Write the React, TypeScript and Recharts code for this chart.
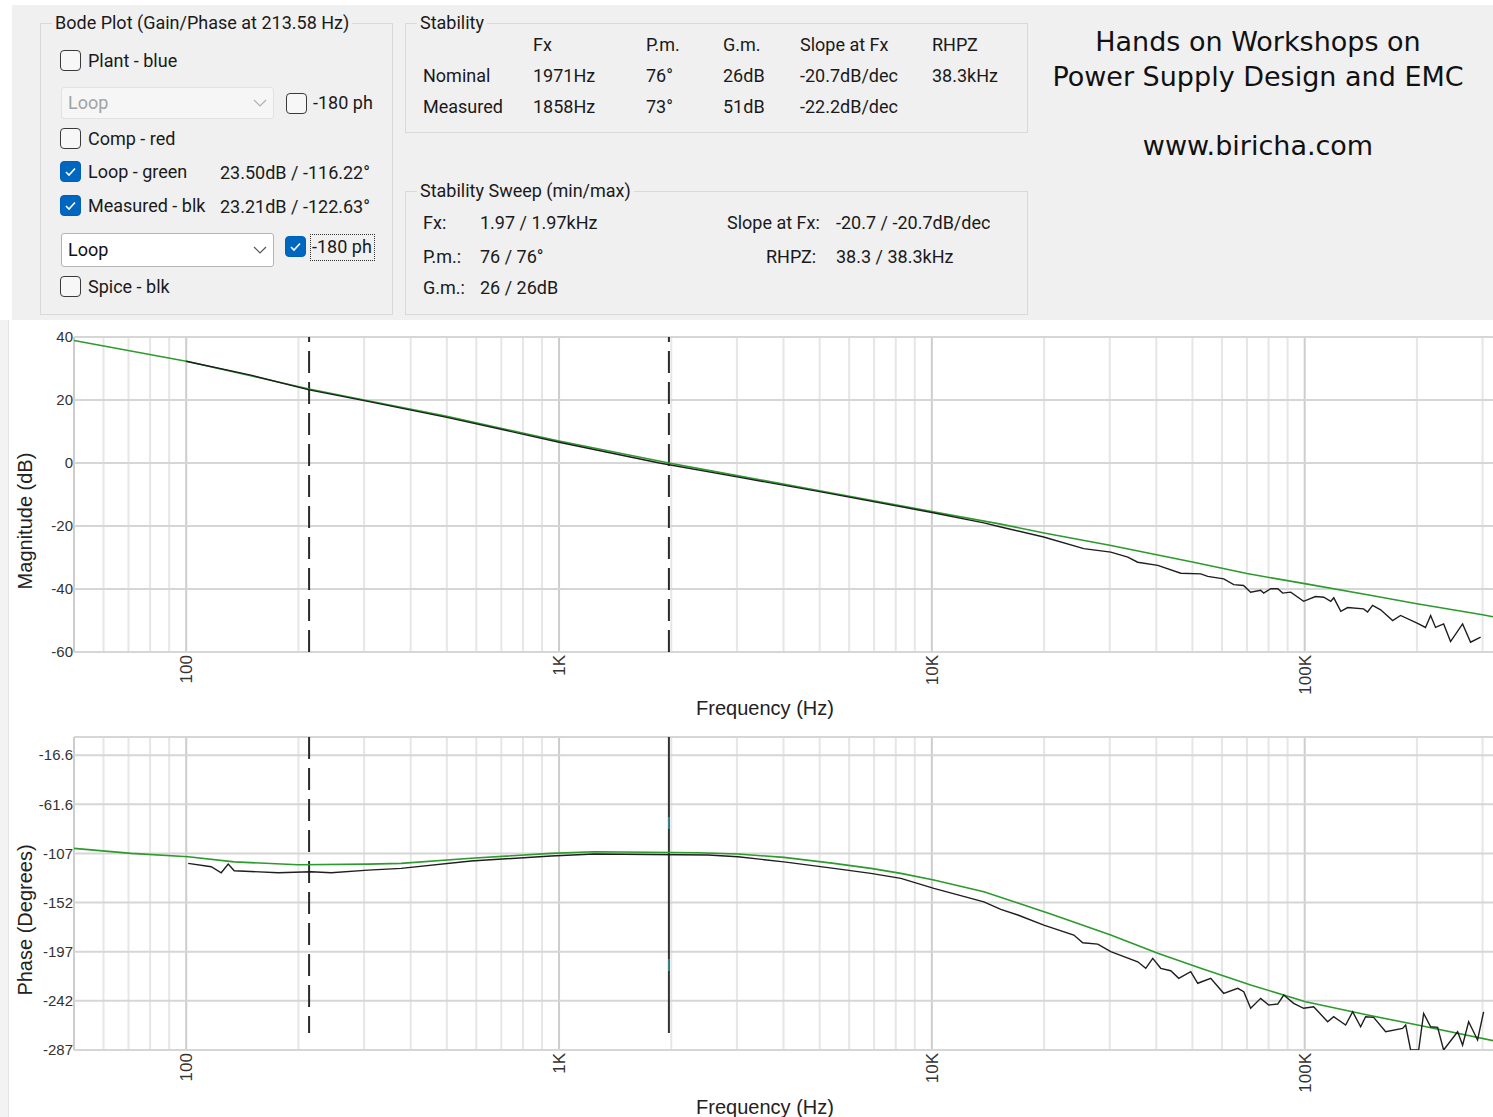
import React from 'react';
import { LineChart, Line, XAxis, YAxis, CartesianGrid, ReferenceLine } from 'recharts';

// ---------- data ----------
const freqTicks = [100, 1000, 10000, 100000];
const freqTickLabels = ['100', '1K', '10K', '100K'];
const minorGridFreqs = [60, 70, 80, 90, 200, 300, 400, 500, 600, 700, 800, 900, 2000, 3000, 4000, 5000, 6000, 7000, 8000, 9000, 20000, 30000, 40000, 50000, 60000, 70000, 80000, 90000, 200000, 300000];
const majorGridFreqs = [50, 100, 1000, 10000, 100000];

const magTicks = [40, 20, 0, -20, -40, -60];
const phaseTicks = [-16.6, -61.6, -106.6, -151.6, -196.6, -241.6, -286.6];
const phaseTickLabels = ['-16.6', '-61.6', '-107', '-152', '-197', '-242', '-287'];

const cursorFreq = 213.58;
const crossoverFreq = 1971;

const magLoopFreq = [50, 100, 150, 213.58, 300, 500, 1000, 1971, 3000, 5000, 10000, 15300, 20000, 30000, 50000, 70000, 100000, 150000, 200000, 300000, 320000];
const magLoopDb = [38.9, 32.3, 27.6, 23.5, 20.0, 14.8, 7.0, 0, -4.0, -8.8, -15.4, -19.4, -22.2, -26.1, -31.4, -35.1, -38.3, -42.0, -44.7, -48.2, -48.8];

const magMeasFreq = [100, 150, 213.58, 300, 500, 1000, 1858, 3000, 5000, 10000, 13786, 15310, 19950, 25550, 30200, 33540, 35650, 40360, 46520, 52630, 54950, 60650, 64520, 68550, 71610, 76210, 77620, 81090, 84720, 87300, 91730, 99370, 106900, 112500, 117500, 119700, 125000, 130400, 143900, 147500, 152100, 159900, 172200, 180800, 200900, 210900, 217700, 224400, 235900, 246200, 265200, 278600, 296500];
const magMeasDb = [32.3, 27.8, 23.21, 19.8, 14.5, 6.6, 0, -4.4, -9.1, -15.7, -19.0, -20.3, -23.5, -27.2, -28.3, -29.9, -31.5, -32.5, -35.0, -35.2, -36.0, -36.8, -38.6, -38.9, -41.0, -40.4, -41.3, -39.9, -39.9, -41.3, -41.0, -43.9, -42.4, -42.6, -43.9, -42.8, -47.1, -45.9, -46.3, -47.3, -45.2, -46.6, -50.0, -48.4, -50.9, -52.2, -48.4, -52.2, -51.1, -56.7, -51.1, -56.9, -55.3];

const phLoopFreq = [50, 71.2, 101.2, 134.5, 199.7, 307.6, 377, 580.8, 952, 1241, 2358, 3019, 4011, 5462, 6862, 8259, 10125, 13786, 17010, 20840, 30190, 40360, 52630, 71640, 100600, 147560, 200900, 321200];
const phLoopDeg = [-102.0, -106.6, -109.7, -114.3, -117.0, -116.4, -115.7, -111.0, -106.6, -105.1, -106.0, -107.2, -110.2, -115.7, -120.3, -124.9, -131.0, -141.7, -152.0, -162.1, -181.3, -198.1, -211.8, -227.1, -242.4, -254.6, -263.7, -278.1];

const phMeasFreq = [101.2, 116.7, 124.1, 129.6, 134.5, 176.5, 216.3, 244.8, 307.6, 377, 580.8, 952, 1241, 2509, 3019, 4011, 5462, 6862, 8259, 10125, 13786, 15310, 17010, 19970, 24030, 25400, 27860, 30190, 35660, 37470, 39130, 41110, 43730, 45940, 49480, 51660, 55980, 60650, 66150, 68640, 71640, 76210, 80080, 84670, 87860, 93430, 99380, 105700, 115260, 119600, 128800, 134500, 141300, 145700, 153100, 164900, 183100, 186600, 192400, 202200, 208500, 217700, 227300, 235900, 257200, 265200, 275300, 290900, 302000];
const phMeasDeg = [-115.7, -118.8, -124.3, -116.4, -122.5, -124.3, -123.4, -124.3, -121.9, -120.3, -113.5, -109.0, -107.2, -108.1, -109.7, -114.3, -120.3, -124.9, -129.5, -138.6, -150.9, -157.9, -163.0, -172.2, -181.3, -188.4, -189.6, -196.6, -205.8, -211.8, -202.7, -211.8, -214.0, -221.0, -214.9, -225.5, -221.0, -234.7, -230.1, -233.2, -248.4, -239.3, -245.4, -244.5, -236.3, -243.9, -248.4, -247.0, -260.7, -256.1, -263.7, -251.6, -265.3, -256.1, -256.7, -269.9, -266.8, -263.7, -286.6, -286.6, -253.1, -265.3, -265.9, -286.6, -269.9, -282.1, -260.7, -277.4, -251.6];

const magLoopData = magLoopFreq.map((f, i) => ({ f, v: magLoopDb[i] }));
const magMeasData = magMeasFreq.map((f, i) => ({ f, v: magMeasDb[i] }));
const phLoopData = phLoopFreq.map((f, i) => ({ f, v: phLoopDeg[i] }));
const phMeasData = phMeasFreq.map((f, i) => ({ f, v: phMeasDeg[i] }));

// ---------- styling ----------
const UI_FONT = 'Roboto, "Segoe UI", Arial, sans-serif';
const CHART_FONT = '"Liberation Sans", Arial, sans-serif';
const PANEL_BG = '#f0f0f0';
const GREEN = '#2c9a2c';
const BLACK = '#1e1e1e';

function FreqTick(props: any) {
  const { x, y, payload } = props;
  const i = freqTicks.indexOf(payload.value);
  return (
    <text x={x} y={y} transform={`rotate(-90 ${x} ${y})`} textAnchor="end" dy="0.36em" fontSize={17} fill="#333" fontFamily={CHART_FONT}>
      {i >= 0 ? freqTickLabels[i] : ''}
    </text>
  );
}

function AxisTitle({ x, y, text, vertical }: { x: number; y: number; text: string; vertical?: boolean }) {
  return (
    <text x={x} y={y} transform={vertical ? `rotate(-90 ${x} ${y})` : undefined} textAnchor="middle" dominantBaseline="central" fontSize={20} fill="#222" fontFamily={CHART_FONT}>
      {text}
    </text>
  );
}

function CheckBox({ x, y, checked }: { x: number; y: number; checked: boolean }) {
  return (
    <div style={{ position: 'absolute', left: x, top: y, width: 21, height: 21, boxSizing: 'border-box', borderRadius: 4, border: checked ? '1px solid #0060b8' : '1.5px solid #3a3a3a', background: checked ? '#0067c0' : '#f7f7f7' }}>
      {checked && (
        <svg width={21} height={21} style={{ position: 'absolute', left: -1, top: -1 }}>
          <polyline points="6,11 9,14 15,7.5" fill="none" stroke="#fff" strokeWidth={1.6} />
        </svg>
      )}
    </div>
  );
}

function Txt({ x, cy, children, size = 18, color = '#1a1a1a', extra }: { x: number; cy: number; children: React.ReactNode; size?: number; color?: string; extra?: React.CSSProperties }) {
  return (
    <div style={{ position: 'absolute', left: x, top: cy - 12, height: 24, lineHeight: '24px', fontSize: size, color, fontFamily: UI_FONT, whiteSpace: 'nowrap', ...extra }}>
      {children}
    </div>
  );
}

function Dropdown({ x, y, w, h, text, enabled }: { x: number; y: number; w: number; h: number; text: string; enabled: boolean }) {
  return (
    <div style={{ position: 'absolute', left: x, top: y, width: w, height: h, boxSizing: 'border-box', borderRadius: 3, border: enabled ? '1px solid #b4b4b4' : '1px solid #e2e2e2', background: enabled ? '#ffffff' : '#f6f6f6' }}>
      <div style={{ position: 'absolute', left: 6, top: 0, lineHeight: `${h - 2}px`, fontSize: 18, fontFamily: UI_FONT, color: enabled ? '#111' : '#a3a3a3' }}>{text}</div>
      <svg width={w} height={h} style={{ position: 'absolute', left: -1, top: -1 }}>
        <polyline points={`${w - 20},${h / 2 - 3} ${w - 14},${h / 2 + 3} ${w - 8},${h / 2 - 3}`} fill="none" stroke={enabled ? '#555' : '#b0b0b0'} strokeWidth={1.2} />
      </svg>
    </div>
  );
}

function GroupBox({ x, y, w, h, title }: { x: number; y: number; w: number; h: number; title: string }) {
  return (
    <>
      <div style={{ position: 'absolute', left: x, top: y, width: w, height: h, boxSizing: 'border-box', border: '1px solid #d9d9d9' }} />
      <div style={{ position: 'absolute', left: x + 12, top: y - 12, padding: '0 3px', background: PANEL_BG, fontSize: 18, lineHeight: '24px', fontFamily: UI_FONT, color: '#1a1a1a', whiteSpace: 'nowrap' }}>{title}</div>
    </>
  );
}

function TopPanel() {
  const big: React.CSSProperties = { position: 'absolute', left: 1030, width: 456, textAlign: 'center', fontFamily: '"DejaVu Sans", Verdana, sans-serif', fontSize: 27, lineHeight: '34px', color: '#111', whiteSpace: 'nowrap' };
  return (
    <div style={{ position: 'absolute', left: 12, top: 5, width: 1481, height: 315, background: PANEL_BG }}>
      <div style={{ position: 'absolute', left: -12, top: -5, width: 1493, height: 320 }}>
        <GroupBox x={40} y={23} w={353} h={292} title="Bode Plot (Gain/Phase at 213.58 Hz)" />
        <CheckBox x={60} y={50} checked={false} />
        <Txt x={88} cy={61}>Plant - blue</Txt>
        <Dropdown x={61} y={87} w={213} h={32} text="Loop" enabled={false} />
        <CheckBox x={286} y={93} checked={false} />
        <Txt x={313} cy={103}>-180 ph</Txt>
        <CheckBox x={60} y={128} checked={false} />
        <Txt x={88} cy={139}>Comp - red</Txt>
        <CheckBox x={60} y={161} checked={true} />
        <Txt x={88} cy={172}>Loop - green</Txt>
        <Txt x={220} cy={173}>23.50dB / -116.22°</Txt>
        <CheckBox x={60} y={195} checked={true} />
        <Txt x={88} cy={206}>Measured - blk</Txt>
        <Txt x={220} cy={207}>23.21dB / -122.63°</Txt>
        <Dropdown x={61} y={233} w={213} h={34} text="Loop" enabled={true} />
        <CheckBox x={285} y={236} checked={true} />
        <div style={{ position: 'absolute', left: 310, top: 234, width: 65, height: 27, boxSizing: 'border-box', border: '1px dotted #333' }} />
        <Txt x={312} cy={247}>-180 ph</Txt>
        <CheckBox x={60} y={276} checked={false} />
        <Txt x={88} cy={287}>Spice - blk</Txt>

        <GroupBox x={405} y={23} w={623} h={110} title="Stability" />
        <Txt x={533} cy={45}>Fx</Txt>
        <Txt x={646} cy={45}>P.m.</Txt>
        <Txt x={723} cy={45}>G.m.</Txt>
        <Txt x={800} cy={45}>Slope at Fx</Txt>
        <Txt x={932} cy={45}>RHPZ</Txt>
        <Txt x={423} cy={76}>Nominal</Txt>
        <Txt x={533} cy={76}>1971Hz</Txt>
        <Txt x={646} cy={76}>76°</Txt>
        <Txt x={723} cy={76}>26dB</Txt>
        <Txt x={800} cy={76}>-20.7dB/dec</Txt>
        <Txt x={932} cy={76}>38.3kHz</Txt>
        <Txt x={423} cy={107}>Measured</Txt>
        <Txt x={533} cy={107}>1858Hz</Txt>
        <Txt x={646} cy={107}>73°</Txt>
        <Txt x={723} cy={107}>51dB</Txt>
        <Txt x={800} cy={107}>-22.2dB/dec</Txt>

        <GroupBox x={405} y={191} w={623} h={124} title="Stability Sweep (min/max)" />
        <Txt x={423} cy={223}>Fx:</Txt>
        <Txt x={480} cy={223}>1.97 / 1.97kHz</Txt>
        <Txt x={423} cy={257}>P.m.:</Txt>
        <Txt x={480} cy={257}>76 / 76°</Txt>
        <Txt x={423} cy={288}>G.m.:</Txt>
        <Txt x={480} cy={288}>26 / 26dB</Txt>
        <Txt x={727} cy={223}>Slope at Fx:</Txt>
        <Txt x={836} cy={223}>-20.7 / -20.7dB/dec</Txt>
        <Txt x={766} cy={257}>RHPZ:</Txt>
        <Txt x={836} cy={257}>38.3 / 38.3kHz</Txt>

        <div style={{ ...big, top: 42 - 17 }}>Hands on Workshops on</div>
        <div style={{ ...big, top: 77 - 17 }}>Power Supply Design and EMC</div>
        <div style={{ ...big, top: 146 - 17 }}>www.biricha.com</div>
      </div>
    </div>
  );
}

const tickStyle = { fontSize: 15, fill: '#333', fontFamily: CHART_FONT };

function MagnitudeChart() {
  return (
    <div style={{ position: 'absolute', left: 0, top: 320 }}>
      <LineChart width={1493} height={410} margin={{ top: 17, right: 0, bottom: 38, left: 0 }}>
        <CartesianGrid horizontal={false} verticalValues={minorGridFreqs} stroke="#e6e6e6" strokeWidth={2} />
        <CartesianGrid horizontal={false} verticalValues={majorGridFreqs} stroke="#cdcdcd" strokeWidth={2} />
        <CartesianGrid vertical={false} stroke="#d6d6d6" strokeWidth={2} />
        <XAxis dataKey="f" type="number" scale="log" domain={[50, 320000]} allowDataOverflow ticks={freqTicks} interval={0} tick={FreqTick} axisLine={false} tickLine={false} tickSize={0} tickMargin={3} height={40}
          label={() => <AxisTitle x={765} y={388} text="Frequency (Hz)" />} />
        <YAxis type="number" domain={[-60, 40]} ticks={magTicks} interval={0} tick={tickStyle} axisLine={false} tickLine={false} tickSize={0} tickMargin={1} width={74}
          label={() => <AxisTitle x={25} y={201} text="Magnitude (dB)" vertical />} />
        <ReferenceLine x={cursorFreq} stroke="#2a2a2a" strokeWidth={2} strokeDasharray="22 9" />
        <ReferenceLine x={crossoverFreq} stroke="#2a2a2a" strokeWidth={2} strokeDasharray="22 9" />
        <Line data={magLoopData} dataKey="v" type="linear" stroke={GREEN} strokeWidth={1.6} dot={false} isAnimationActive={false} />
        <Line data={magMeasData} dataKey="v" type="linear" stroke={BLACK} strokeWidth={1.4} dot={false} isAnimationActive={false} />
      </LineChart>
    </div>
  );
}

function PhaseChart() {
  return (
    <div style={{ position: 'absolute', left: 0, top: 720 }}>
      <LineChart width={1493} height={397} margin={{ top: 17, right: 0, bottom: 27, left: 0 }}>
        <CartesianGrid horizontal={false} verticalValues={minorGridFreqs} stroke="#e6e6e6" strokeWidth={2} />
        <CartesianGrid horizontal={false} verticalValues={majorGridFreqs} stroke="#cdcdcd" strokeWidth={2} />
        <CartesianGrid vertical={false} horizontalValues={[0, ...phaseTicks]} stroke="#d6d6d6" strokeWidth={2} />
        <XAxis dataKey="f" type="number" scale="log" domain={[50, 320000]} allowDataOverflow ticks={freqTicks} interval={0} tick={FreqTick} axisLine={false} tickLine={false} tickSize={0} tickMargin={3} height={40}
          label={() => <AxisTitle x={765} y={387} text="Frequency (Hz)" />} />
        <YAxis type="number" domain={[-286.6, 0]} allowDataOverflow ticks={phaseTicks} interval={0} tick={tickStyle} tickFormatter={(v: number) => phaseTickLabels[phaseTicks.indexOf(v)] ?? String(v)} axisLine={false} tickLine={false} tickSize={0} tickMargin={1} width={74}
          label={() => <AxisTitle x={25} y={200} text="Phase (Degrees)" vertical />} />
        <ReferenceLine segment={[{ x: cursorFreq, y: 0 }, { x: cursorFreq, y: -271 }]} stroke="#2a2a2a" strokeWidth={2} strokeDasharray="22 9" />
        <ReferenceLine segment={[{ x: crossoverFreq, y: 0 }, { x: crossoverFreq, y: -271 }]} stroke="#333" strokeWidth={2} />
        <ReferenceLine segment={[{ x: crossoverFreq, y: 0 }, { x: crossoverFreq, y: -271 }]} stroke="#3fb6c2" strokeWidth={1} strokeDasharray="0 80 12 50" />
        <Line data={phLoopData} dataKey="v" type="linear" stroke={GREEN} strokeWidth={1.6} dot={false} isAnimationActive={false} />
        <Line data={phMeasData} dataKey="v" type="linear" stroke={BLACK} strokeWidth={1.4} dot={false} isAnimationActive={false} />
      </LineChart>
    </div>
  );
}

export default function App() {
  return (
    <div style={{ position: 'absolute', left: 0, top: 0, width: 1493, height: 1117, background: '#ffffff', overflow: 'hidden' }}>
      <TopPanel />
      <div style={{ position: 'absolute', left: 0, top: 320, width: 8, height: 797, background: '#f3f3f3', borderRight: '1px solid #e4e4e4' }} />
      <MagnitudeChart />
      <PhaseChart />
    </div>
  );
}
